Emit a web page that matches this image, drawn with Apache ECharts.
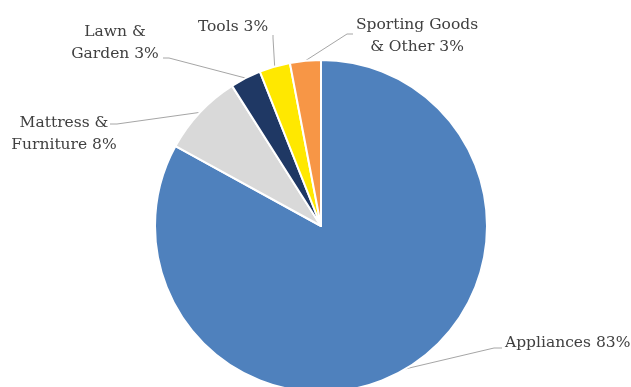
<!DOCTYPE html>
<html>
<head>
<meta charset="utf-8">
<style>
  html, body { margin: 0; padding: 0; background: #fff; }
  #chart { width: 631px; height: 387px; }
</style>
<script src="https://cdn.jsdelivr.net/npm/echarts@6/dist/echarts.min.js"></script>
</head>
<body>
<div id="chart"></div>
<script>
// Product categories (clockwise from 12 o'clock) and their shares in percent
const categories = ['Appliances', 'Mattress &\nFurniture', 'Lawn &\nGarden', 'Tools', 'Sporting Goods\n& Other'];
const shares = [83, 8, 3, 3, 3];
const colors = ['#4f81bd', '#d9d9d9', '#1f3864', '#ffe800', '#f79646'];

// Where each label sits and where its leader line bends and ends
const labelSpots = [
  { x: 505, y: 343, align: 'left',   bend: [494, 348], end: [502, 348] },
  { x: 64,  y: 134, align: 'center', bend: [117, 124], end: [110, 124] },
  { x: 115, y: 43,  align: 'center', bend: [169, 58],  end: [163, 58] },
  { x: 233, y: 27,  align: 'center', bend: [273, 38],  end: [273, 35] },
  { x: 417, y: 36,  align: 'center', bend: [347, 34],  end: [353, 34] }
];

const chart = echarts.init(document.getElementById('chart'), null, { renderer: 'canvas' });

chart.setOption({
  animation: false,
  backgroundColor: '#ffffff',
  color: colors,
  series: [{
    type: 'pie',
    center: [321, 226],
    radius: 166,
    startAngle: 90,
    clockwise: true,
    avoidLabelOverlap: false,
    itemStyle: { borderColor: '#ffffff', borderWidth: 2 },
    label: {
      show: true,
      position: 'outside',
      fontFamily: 'DejaVu Serif',
      fontSize: 15.5,
      lineHeight: 22,
      color: '#404040',
      formatter: p => p.name + ' ' + p.value + '%'
    },
    labelLine: {
      show: true,
      lineStyle: { color: '#a6a6a6', width: 1 }
    },
    labelLayout: function (params) {
      const s = labelSpots[params.dataIndex];
      const start = params.labelLinePoints ? params.labelLinePoints[0] : s.bend;
      return {
        x: s.x,
        y: s.y,
        align: s.align,
        verticalAlign: 'middle',
        labelLinePoints: [start, s.bend, s.end]
      };
    },
    data: categories.map((name, i) => ({ name: name, value: shares[i] }))
  }]
});
</script>
</body>
</html>
